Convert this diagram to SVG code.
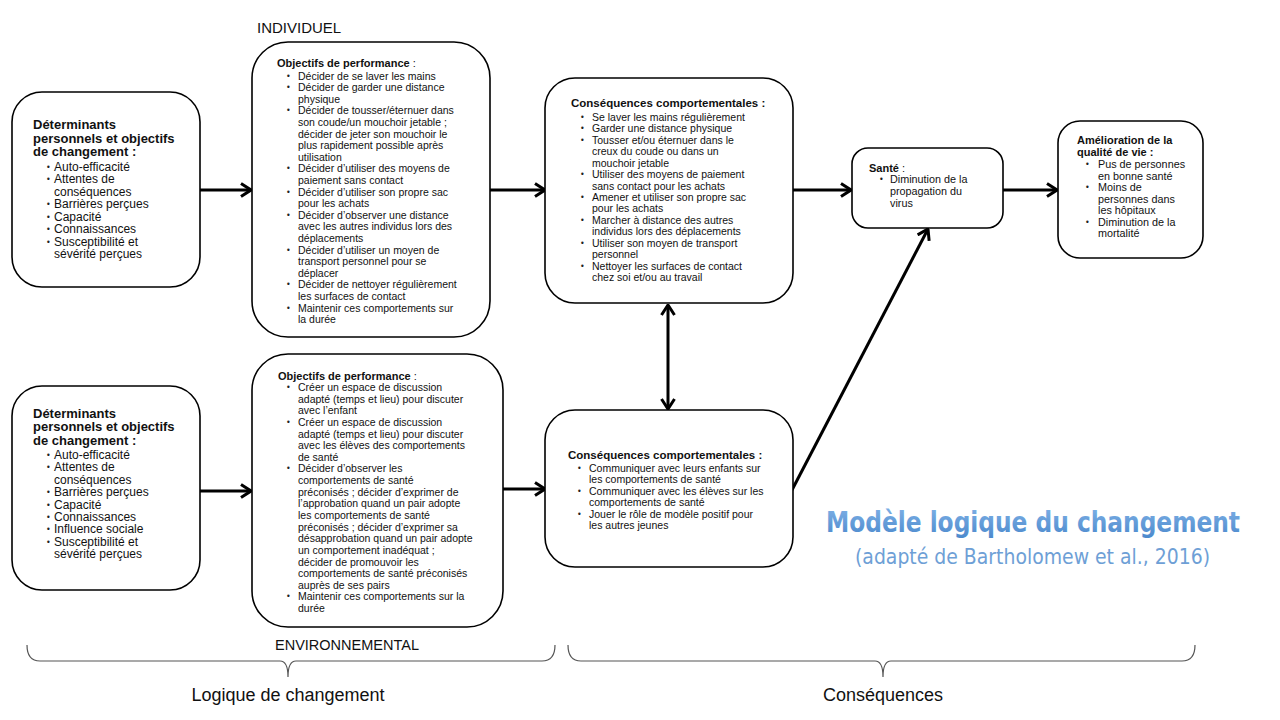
<svg xmlns="http://www.w3.org/2000/svg" width="1280" height="720" viewBox="0 0 1280 720">
<defs>
<style>
.box{fill:#fff;stroke:#000;stroke-width:1.6}
.t{font-family:"Liberation Sans",Arial,sans-serif;fill:#111}
.s105{font-size:10.5px}
.s12{font-size:12px}
.hb{font-family:"Liberation Sans",Arial,sans-serif;font-weight:bold;fill:#111}
.b{font-family:"DejaVu Sans",sans-serif;font-size:8px;fill:#222}
.conn{stroke:#000;stroke-width:3;fill:none}
.brace{stroke:#555;stroke-width:1.2;fill:none}
.lbl{font-family:"Liberation Sans",Arial,sans-serif;fill:#111}
</style>
<marker id="ah" viewBox="0 0 12 16" markerWidth="12" markerHeight="16" refX="11" refY="8" orient="auto-start-reverse" markerUnits="userSpaceOnUse">
<path d="M1,1.5 L11,8 L1,14.5" fill="none" stroke="#000" stroke-width="3" stroke-linejoin="miter"/>
</marker>
<linearGradient id="tg" x1="0" y1="0" x2="0" y2="1">
<stop offset="0" stop-color="#7fb1e6"/>
<stop offset="1" stop-color="#4a88cc"/>
</linearGradient>
</defs>
<rect width="1280" height="720" fill="#fff"/>

<g id="labels">
<text class="lbl" x="257" y="32.5" font-size="15">INDIVIDUEL</text>
<text class="lbl" x="275" y="650" font-size="14.5">ENVIRONNEMENTAL</text>
<text class="lbl" x="288" y="701" font-size="18" text-anchor="middle">Logique de changement</text>
<text class="lbl" x="883" y="701" font-size="18" text-anchor="middle">Conséquences</text>
<text x="826" y="532" font-family="'Liberation Sans Narrow','DejaVu Sans Condensed','Liberation Sans',sans-serif" font-weight="bold" font-size="28" fill="url(#tg)" textLength="414" lengthAdjust="spacingAndGlyphs">Modèle logique du changement</text>
<text x="855" y="564" font-family="'Liberation Sans Narrow','DejaVu Sans Condensed','Liberation Sans',sans-serif" font-size="21" fill="#6e9fd6" textLength="355" lengthAdjust="spacingAndGlyphs">(adapté de Bartholomew et al., 2016)</text>
</g>

<g id="braces">
<path class="brace" d="M27,645 Q27,661 40,661 L280,661 Q288,661 288,677 Q288,661 296,661 L542,661 Q555,661 555,645"/>
<path class="brace" d="M568,645 Q568,661 581,661 L875,661 Q883,661 883,677 Q883,661 891,661 L1182,661 Q1195,661 1195,645"/>
</g>

<g id="connectors">
<line class="conn" x1="200" y1="190" x2="251" y2="190" marker-end="url(#ah)"/>
<line class="conn" x1="490" y1="190" x2="545" y2="190" marker-end="url(#ah)"/>
<line class="conn" x1="793" y1="190" x2="851" y2="190" marker-end="url(#ah)"/>
<line class="conn" x1="1003" y1="190" x2="1057" y2="190" marker-end="url(#ah)"/>
<line class="conn" x1="200" y1="491" x2="251" y2="491" marker-end="url(#ah)"/>
<line class="conn" x1="503" y1="489" x2="545" y2="489" marker-end="url(#ah)"/>
<line class="conn" x1="668" y1="305" x2="668" y2="409" marker-start="url(#ah)" marker-end="url(#ah)"/>
<line class="conn" x1="792" y1="490" x2="928" y2="229" marker-end="url(#ah)"/>
</g>

<g id="n-det-ind">
<rect class="box" x="12" y="92" width="188" height="195" rx="30"/>
<text class="hb" font-size="13" x="33" y="129">Déterminants</text>
<text class="hb" font-size="13" x="33" y="142.5">personnels et objectifs</text>
<text class="hb" font-size="13" x="33" y="156">de changement :</text>
<g class="t s12">
<text x="54" y="170.5">Auto-efficacité</text>
<text x="54" y="183">Attentes de</text>
<text x="54" y="195.5">conséquences</text>
<text x="54" y="208">Barrières perçues</text>
<text x="54" y="220.5">Capacité</text>
<text x="54" y="233">Connaissances</text>
<text x="54" y="245.5">Susceptibilité et</text>
<text x="54" y="258">sévérité perçues</text>
</g>
<g class="b">
<text x="46" y="169.5">•</text><text x="46" y="182">•</text><text x="46" y="207">•</text><text x="46" y="219.5">•</text><text x="46" y="232">•</text><text x="46" y="244.5">•</text>
</g>
</g>

<g id="n-obj-ind">
<rect class="box" x="252" y="42" width="238" height="295" rx="36"/>
<text class="hb" font-size="11" x="277" y="67">Objectifs de performance<tspan font-weight="normal"> :</tspan></text>
<g class="t s105">
<text x="298" y="79.5">Décider de se laver les mains</text>
<text x="298" y="91.1">Décider de garder une distance</text>
<text x="298" y="102.7">physique</text>
<text x="298" y="114.3">Décider de tousser/éternuer dans</text>
<text x="298" y="125.9">son coude/un mouchoir jetable ;</text>
<text x="298" y="137.5">décider de jeter son mouchoir le</text>
<text x="298" y="149.1">plus rapidement possible après</text>
<text x="298" y="160.7">utilisation</text>
<text x="298" y="172.3">Décider d’utiliser des moyens de</text>
<text x="298" y="183.9">paiement sans contact</text>
<text x="298" y="195.5">Décider d’utiliser son propre sac</text>
<text x="298" y="207.1">pour les achats</text>
<text x="298" y="218.7">Décider d’observer une distance</text>
<text x="298" y="230.3">avec les autres individus lors des</text>
<text x="298" y="241.9">déplacements</text>
<text x="298" y="253.5">Décider d’utiliser un moyen de</text>
<text x="298" y="265.1">transport personnel pour se</text>
<text x="298" y="276.7">déplacer</text>
<text x="298" y="288.3">Décider de nettoyer régulièrement</text>
<text x="298" y="299.9">les surfaces de contact</text>
<text x="298" y="311.5">Maintenir ces comportements sur</text>
<text x="298" y="323.1">la durée</text>
</g>
<g class="b">
<text x="286" y="78.5">•</text><text x="286" y="90.1">•</text><text x="286" y="113.3">•</text><text x="286" y="171.3">•</text><text x="286" y="194.5">•</text><text x="286" y="217.7">•</text><text x="286" y="252.5">•</text><text x="286" y="287.3">•</text><text x="286" y="310.5">•</text>
</g>
</g>

<g id="n-cons-ind">
<rect class="box" x="545" y="78" width="248" height="225" rx="30"/>
<text class="hb" font-size="11.5" x="571" y="107">Conséquences comportementales :</text>
<g class="t s105">
<text x="592" y="121">Se laver les mains régulièrement</text>
<text x="592" y="132.4">Garder une distance physique</text>
<text x="592" y="143.9">Tousser et/ou éternuer dans le</text>
<text x="592" y="155.3">creux du coude ou dans un</text>
<text x="592" y="166.7">mouchoir jetable</text>
<text x="592" y="178.2">Utiliser des moyens de paiement</text>
<text x="592" y="189.6">sans contact pour les achats</text>
<text x="592" y="201">Amener et utiliser son propre sac</text>
<text x="592" y="212.4">pour les achats</text>
<text x="592" y="223.9">Marcher à distance des autres</text>
<text x="592" y="235.3">individus lors des déplacements</text>
<text x="592" y="246.7">Utiliser son moyen de transport</text>
<text x="592" y="258.2">personnel</text>
<text x="592" y="269.6">Nettoyer les surfaces de contact</text>
<text x="592" y="281">chez soi et/ou au travail</text>
</g>
<g class="b">
<text x="580" y="120">•</text><text x="580" y="131.4">•</text><text x="580" y="142.9">•</text><text x="580" y="177.2">•</text><text x="580" y="200">•</text><text x="580" y="222.9">•</text><text x="580" y="245.7">•</text><text x="580" y="268.6">•</text>
</g>
</g>

<g id="n-sante">
<rect class="box" x="852" y="148" width="151" height="80" rx="16"/>
<text class="hb" font-size="11" x="869" y="172">Santé<tspan font-weight="normal"> :</tspan></text>
<g class="t" font-size="10.8">
<text x="890" y="183">Diminution de la</text>
<text x="890" y="195">propagation du</text>
<text x="890" y="207">virus</text>
</g>
<g class="b"><text x="879" y="182">•</text></g>
</g>

<g id="n-qualite">
<rect class="box" x="1058" y="121" width="145" height="137" rx="22"/>
<text class="hb" font-size="11" x="1077" y="144">Amélioration de la</text>
<text class="hb" font-size="11" x="1077" y="156">qualité de vie :</text>
<g class="t" font-size="10.8">
<text x="1098" y="168">Pus de personnes</text>
<text x="1098" y="179.5">en bonne santé</text>
<text x="1098" y="191">Moins de</text>
<text x="1098" y="202.5">personnes dans</text>
<text x="1098" y="214">les hôpitaux</text>
<text x="1098" y="225.5">Diminution de la</text>
<text x="1098" y="237">mortalité</text>
</g>
<g class="b"><text x="1085" y="167">•</text><text x="1085" y="190">•</text><text x="1085" y="224.5">•</text></g>
</g>

<g id="n-det-env">
<rect class="box" x="12" y="386" width="188" height="204" rx="30"/>
<text class="hb" font-size="13" x="33" y="417.5">Déterminants</text>
<text class="hb" font-size="13" x="33" y="431">personnels et objectifs</text>
<text class="hb" font-size="13" x="33" y="444.5">de changement :</text>
<g class="t s12">
<text x="54" y="459">Auto-efficacité</text>
<text x="54" y="471.4">Attentes de</text>
<text x="54" y="483.8">conséquences</text>
<text x="54" y="496.2">Barrières perçues</text>
<text x="54" y="508.6">Capacité</text>
<text x="54" y="521">Connaissances</text>
<text x="54" y="533.4">Influence sociale</text>
<text x="54" y="545.8">Susceptibilité et</text>
<text x="54" y="558.2">sévérité perçues</text>
</g>
<g class="b">
<text x="46" y="458">•</text><text x="46" y="470.4">•</text><text x="46" y="495.2">•</text><text x="46" y="507.6">•</text><text x="46" y="520">•</text><text x="46" y="532.4">•</text><text x="46" y="544.8">•</text>
</g>
</g>

<g id="n-obj-env">
<rect class="box" x="252" y="354" width="251" height="273" rx="36"/>
<text class="hb" font-size="11" x="278" y="380">Objectifs de performance<tspan font-weight="normal"> :</tspan></text>
<g class="t s105">
<text x="298" y="391">Créer un espace de discussion</text>
<text x="298" y="402.6">adapté (temps et lieu) pour discuter</text>
<text x="298" y="414.3">avec l’enfant</text>
<text x="298" y="425.9">Créer un espace de discussion</text>
<text x="298" y="437.5">adapté (temps et lieu) pour discuter</text>
<text x="298" y="449.2">avec les élèves des comportements</text>
<text x="298" y="460.8">de santé</text>
<text x="298" y="472.4">Décider d’observer les</text>
<text x="298" y="484">comportements de santé</text>
<text x="298" y="495.7">préconisés ; décider d’exprimer de</text>
<text x="298" y="507.3">l’approbation quand un pair adopte</text>
<text x="298" y="518.9">les comportements de santé</text>
<text x="298" y="530.6">préconisés ; décider d’exprimer sa</text>
<text x="298" y="542.2">désapprobation quand un pair adopte</text>
<text x="298" y="553.8">un comportement inadéquat ;</text>
<text x="298" y="565.5">décider de promouvoir les</text>
<text x="298" y="577.1">comportements de santé préconisés</text>
<text x="298" y="588.7">auprès de ses pairs</text>
<text x="298" y="600.3">Maintenir ces comportements sur la</text>
<text x="298" y="612">durée</text>
</g>
<g class="b">
<text x="286" y="390">•</text><text x="286" y="424.9">•</text><text x="286" y="471.4">•</text><text x="286" y="599.3">•</text>
</g>
</g>

<g id="n-cons-env">
<rect class="box" x="545" y="410" width="248" height="157" rx="30"/>
<text class="hb" font-size="11.5" x="568" y="459">Conséquences comportementales :</text>
<g class="t s105">
<text x="589" y="472">Communiquer avec leurs enfants sur</text>
<text x="589" y="483.4">les comportements de santé</text>
<text x="589" y="494.8">Communiquer avec les élèves sur les</text>
<text x="589" y="506.2">comportements de santé</text>
<text x="589" y="517.6">Jouer le rôle de modèle positif pour</text>
<text x="589" y="529">les autres jeunes</text>
</g>
<g class="b"><text x="577" y="471">•</text><text x="577" y="493.8">•</text><text x="577" y="516.6">•</text></g>
</g>
</svg>
